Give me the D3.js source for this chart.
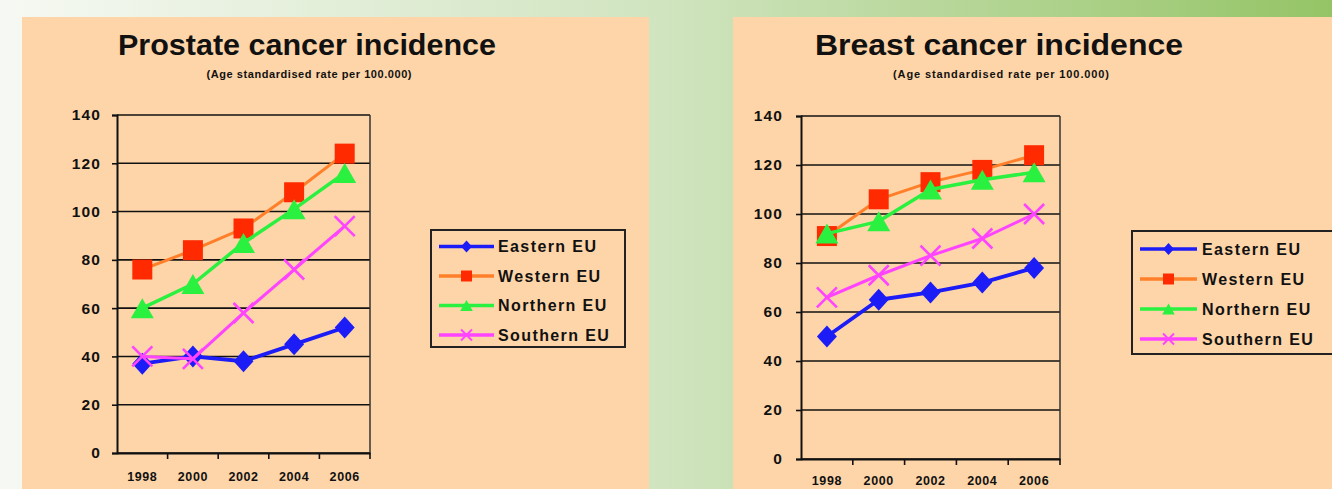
<!DOCTYPE html>
<html>
<head>
<meta charset="utf-8">
<script src="https://cdn.jsdelivr.net/npm/d3@7"></script>
<style>
  html, body { margin: 0; padding: 0; overflow: hidden; }
  svg { display: block; font-family: "Liberation Sans", Arial, sans-serif; }
</style>
</head>
<body>
<svg id="chart" width="1332" height="489"></svg>
<script>
// ---- data ----
const years = ["1998", "2000", "2002", "2004", "2006"];
const seriesNames = ["Eastern EU", "Western EU", "Northern EU", "Southern EU"];
const yTicks = [0, 20, 40, 60, 80, 100, 120, 140];

const prostateEastern  = [37, 40, 38, 45, 52];
const prostateWestern  = [76, 84, 93, 108, 124];
const prostateNorthern = [60, 70, 87, 101, 116];
const prostateSouthern = [40, 39, 58, 76, 94];

const breastEastern  = [50, 65, 68, 72, 78];
const breastWestern  = [91, 106, 113, 118, 124];
const breastNorthern = [92, 97, 110, 114, 117];
const breastSouthern = [66, 75, 83, 90, 100];

const titles = ["Prostate cancer incidence", "Breast cancer incidence"];
const subtitle = "(Age standardised rate per 100.000)";

// ---- styles per series ----
const lineColors   = ["#1c1cf6", "#ff7f2a", "#2af040", "#ff44ff"];
const markerColors = ["#1c1cf6", "#ff2a00", "#2af040", "#ff44ff"];
const lineWidths   = [3.8, 3, 3.5, 3];

// marker shapes, given a scale factor k (1 = plot marker)
function markerPath(s, k) {
  const p = d3.path();
  if (s === 0) {            // diamond
    const w = 10 * k, h = 11 * k;
    p.moveTo(0, -h); p.lineTo(w, 0); p.lineTo(0, h); p.lineTo(-w, 0); p.closePath();
  } else if (s === 1) {     // square
    const a = 10 * k;
    p.rect(-a, -a, 2 * a, 2 * a);
  } else if (s === 2) {     // wide triangle
    const w = 11.5 * k, h = 10 * k;
    p.moveTo(0, -h); p.lineTo(w, h); p.lineTo(-w, h); p.closePath();
  } else {                  // cross
    const a = 10 * k;
    p.moveTo(-a, -a); p.lineTo(a, a); p.moveTo(a, -a); p.lineTo(-a, a);
  }
  return p.toString();
}

const svg = d3.select("#chart");

// ---- background ----
const defs = svg.append("defs");
const bg = defs.append("linearGradient").attr("id", "bgGrad").attr("x1", "0").attr("x2", "1").attr("y1", "0").attr("y2", "0");
bg.append("stop").attr("offset", "0").attr("stop-color", "#f6f9f3");
bg.append("stop").attr("offset", "0.5").attr("stop-color", "#d0e4bf");
bg.append("stop").attr("offset", "1").attr("stop-color", "#95c466");
svg.append("rect").attr("width", 1332).attr("height", 489).attr("fill", "url(#bgGrad)");

const panelFill = "#fed5a8";

function drawChart(cfg) {
  const g = svg.append("g");
  g.append("rect").attr("x", cfg.panel[0]).attr("y", cfg.panel[1])
    .attr("width", cfg.panel[2]).attr("height", cfg.panel[3]).attr("fill", panelFill);

  g.append("text").attr("x", cfg.titleX).attr("y", 55).attr("text-anchor", "middle")
    .attr("font-size", 30).attr("font-weight", "bold")
    .attr("textLength", cfg.titleW).attr("lengthAdjust", "spacingAndGlyphs")
    .attr("fill", "#111").text(cfg.title);
  g.append("text").attr("x", cfg.subX).attr("y", 78).attr("text-anchor", "middle")
    .attr("font-size", 11).attr("font-weight", "bold")
    .attr("textLength", cfg.subW).attr("lengthAdjust", "spacing")
    .attr("fill", "#111").text(subtitle);

  const x = d3.scaleBand().domain(years).range([cfg.left, cfg.right]);
  const y = d3.scaleLinear().domain([0, 140]).range([cfg.bottom, cfg.top]);

  // gridlines
  g.append("g").selectAll("line").data(yTicks).join("line")
    .attr("x1", cfg.left).attr("x2", cfg.right)
    .attr("y1", d => y(d)).attr("y2", d => y(d))
    .attr("stroke", "#111").attr("stroke-width", 1.6);
  // right border
  g.append("line").attr("x1", cfg.right).attr("x2", cfg.right)
    .attr("y1", y(140)).attr("y2", y(0)).attr("stroke", "#333").attr("stroke-width", 1.5);

  // y axis
  const yAxis = g.append("g").attr("transform", `translate(${cfg.left},0)`)
    .call(d3.axisLeft(y).tickValues(yTicks).tickSize(5).tickPadding(cfg.yPad));
  yAxis.select(".domain").attr("stroke", "#111").attr("stroke-width", 2);
  yAxis.selectAll(".tick line").attr("stroke", "#111").attr("stroke-width", 1.6);
  yAxis.selectAll("text").attr("font-size", 15.5).attr("font-weight", "bold")
    .attr("letter-spacing", 1.1).attr("fill", "#111").attr("font-family", "Liberation Sans, Arial, sans-serif");

  // x axis: ticks at category boundaries
  const xAxis = g.append("g").attr("transform", `translate(0,${cfg.bottom})`)
    .call(d3.axisBottom(x).tickSize(0).tickPadding(cfg.xPad));
  xAxis.select(".domain").attr("stroke", "#111").attr("stroke-width", 2);
  xAxis.selectAll("text").attr("font-size", 12.5).attr("font-weight", "bold")
    .attr("letter-spacing", 0.6).attr("fill", "#111").attr("font-family", "Liberation Sans, Arial, sans-serif");
  g.append("g").selectAll("line").data(years).join("line")
    .attr("x1", (d, i) => cfg.left + x.step() * (i + 1))
    .attr("x2", (d, i) => cfg.left + x.step() * (i + 1))
    .attr("y1", cfg.bottom).attr("y2", cfg.bottom + 6)
    .attr("stroke", "#111").attr("stroke-width", 1.6);

  // series: each line followed by its markers
  const line = d3.line().x((d, i) => x(years[i]) + x.bandwidth() / 2).y(d => y(d));
  cfg.series.forEach((vals, s) => {
    g.append("path").datum(vals).attr("d", line).attr("fill", "none")
      .attr("stroke", lineColors[s]).attr("stroke-width", lineWidths[s]).attr("stroke-linejoin", "round");
    g.append("g").selectAll("path").data(vals).join("path")
      .attr("transform", (d, i) => `translate(${x(years[i]) + x.bandwidth() / 2},${y(d)})`)
      .attr("d", markerPath(s, 1))
      .attr("fill", s === 3 ? "none" : markerColors[s])
      .attr("stroke", s === 3 ? markerColors[s] : "none")
      .attr("stroke-width", s === 3 ? 2.6 : 0);
  });

  // legend
  const L = cfg.legend;
  const lg = g.append("g");
  lg.append("rect").attr("x", L.x).attr("y", L.y).attr("width", L.w).attr("height", L.h)
    .attr("fill", "none").attr("stroke", "#222").attr("stroke-width", 2);
  seriesNames.forEach((name, s) => {
    const cy = L.rowY + s * L.step;
    lg.append("line").attr("x1", L.lineX1).attr("x2", L.lineX2).attr("y1", cy).attr("y2", cy)
      .attr("stroke", lineColors[s]).attr("stroke-width", 3.5);
    lg.append("path").attr("transform", `translate(${(L.lineX1 + L.lineX2) / 2},${cy})`)
      .attr("d", markerPath(s, 0.55))
      .attr("fill", s === 3 ? "none" : markerColors[s])
      .attr("stroke", s === 3 ? markerColors[s] : "none").attr("stroke-width", 2);
    lg.append("text").attr("x", L.textX).attr("y", cy).attr("dy", "0.36em")
      .attr("font-size", 16).attr("font-weight", "bold").attr("letter-spacing", 1.4)
      .attr("fill", "#111").text(name);
  });
}

drawChart({
  panel: [22, 17, 627, 480], title: titles[0], titleX: 307, titleW: 378, subX: 309, subW: 205,
  left: 117, right: 370, top: 115, bottom: 453, yPad: 11, xPad: 19,
  series: [prostateEastern, prostateWestern, prostateNorthern, prostateSouthern],
  legend: { x: 431, y: 230, w: 194, h: 117, rowY: 246.5, step: 29.5, lineX1: 439, lineX2: 494, textX: 498 }
});
drawChart({
  panel: [733, 17, 620, 480], title: titles[1], titleX: 999, titleW: 368, subX: 1001, subW: 216,
  left: 801, right: 1060, top: 116, bottom: 459, yPad: 13, xPad: 17,
  series: [breastEastern, breastWestern, breastNorthern, breastSouthern],
  legend: { x: 1132, y: 231, w: 210, h: 123, rowY: 249, step: 30, lineX1: 1140, lineX2: 1197, textX: 1202 }
});
</script>
</body>
</html>
